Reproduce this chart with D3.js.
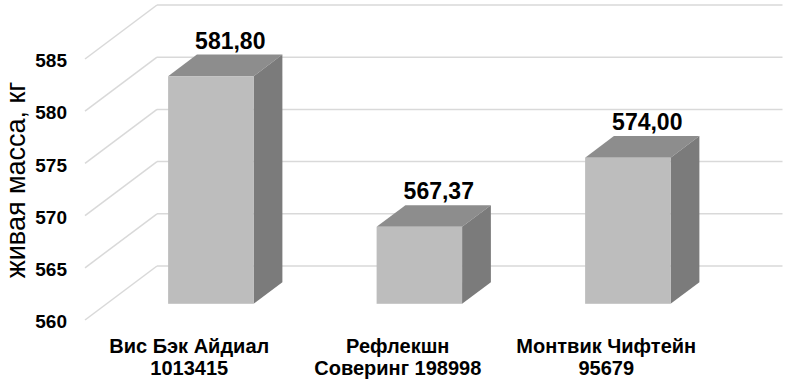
<!DOCTYPE html>
<html>
<head>
<meta charset="utf-8">
<script src="https://cdn.jsdelivr.net/npm/d3@7"></script>
<style>
  body { margin: 0; background: #fff; }
  svg { display: block; font-family: "Liberation Sans", Arial, sans-serif; }
</style>
</head>
<body>
<svg id="chart" width="789" height="381"></svg>
<script>
var categories = ["Вис Бэк Айдиал\n1013415", "Рефлекшн\nСоверинг 198998", "Монтвик Чифтейн\n95679"];
var values = [581.80, 567.37, 574.00];
var yTicks = [560, 565, 570, 575, 580, 585];
var yTitle = "живая масса, кг";

var svg = d3.select("#chart");
var depthX = 72, depthY = -54;      // offset from front plane to back wall
var barFront = 0.3, barBack = 0.7;  // bar depth as share of the full depth

var x = d3.scaleBand()
    .domain(categories)
    .range([85, 710.5]);

var y = d3.scaleLinear()
    .domain([560, 585])
    .range([320, 59]);

var fmt = d3.formatLocale({decimal: ",", thousands: " ", grouping: [3], currency: ["", ""]}).format(".2f");

// grid: back wall lines and side wall diagonals
var grid = svg.append("g").attr("stroke", "#d9d9d9").attr("stroke-width", 1.5).attr("fill", "none");
grid.selectAll(".back")
    .data(yTicks)
    .enter().append("line")
    .attr("x1", x.range()[0] + depthX)
    .attr("x2", x.range()[1] + depthX)
    .attr("y1", d => y(d) + depthY)
    .attr("y2", d => y(d) + depthY);
grid.selectAll(".side")
    .data(yTicks)
    .enter().append("line")
    .attr("x1", x.range()[0])
    .attr("x2", x.range()[0] + depthX)
    .attr("y1", d => y(d))
    .attr("y2", d => y(d) + depthY);

// y axis labels
var axis = svg.append("g")
    .attr("transform", "translate(" + x.range()[0] + ",0)")
    .call(d3.axisLeft(y).tickValues(yTicks).tickSize(0).tickPadding(18).tickFormat(d3.format("d")));
axis.select(".domain").remove();
axis.selectAll("text")
    .attr("dy", "0.4em")
    .attr("fill", "#000")
    .style("font-size", "19px")
    .style("font-weight", "bold")
    .style("font-family", "'Liberation Sans', Arial, sans-serif");

// bars
var bw = x.bandwidth() * 0.41;
var bars = svg.selectAll(".bar")
    .data(values)
    .enter().append("g")
    .attr("class", "bar");

function px(i, f) { return x(categories[i]) + (x.bandwidth() - bw) / 2 + f * depthX; }

bars.append("path")
    .attr("fill", "#8d8d8d")
    .attr("d", (d, i) => {
        var yt = y(d);
        return "M" + px(i, barFront) + "," + (yt + barFront * depthY) +
            "L" + (px(i, barFront) + bw) + "," + (yt + barFront * depthY) +
            "L" + (px(i, barBack) + bw) + "," + (yt + barBack * depthY) +
            "L" + px(i, barBack) + "," + (yt + barBack * depthY) + "Z";
    });
bars.append("path")
    .attr("fill", "#7b7b7b")
    .attr("d", (d, i) => {
        var yt = y(d), yb = y(560);
        return "M" + (px(i, barFront) + bw) + "," + (yt + barFront * depthY) +
            "L" + (px(i, barBack) + bw) + "," + (yt + barBack * depthY) +
            "L" + (px(i, barBack) + bw) + "," + (yb + barBack * depthY) +
            "L" + (px(i, barFront) + bw) + "," + (yb + barFront * depthY) + "Z";
    });
bars.append("rect")
    .attr("fill", "#bdbdbd")
    .attr("x", (d, i) => px(i, barFront))
    .attr("y", d => y(d) + barFront * depthY)
    .attr("width", bw)
    .attr("height", d => y(560) - y(d));

// value labels
bars.append("text")
    .attr("x", (d, i) => px(i, 0.57) + bw / 2)
    .attr("y", d => y(d) + barBack * depthY - 6)
    .attr("text-anchor", "middle")
    .style("font-size", "23px")
    .style("font-weight", "bold")
    .text(d => fmt(d));

// category labels
var cat = svg.selectAll(".cat")
    .data(categories)
    .enter().append("text")
    .attr("text-anchor", "middle")
    .style("font-size", "20px")
    .style("font-weight", "bold");
cat.selectAll("tspan")
    .data(d => d.split("\n").map(s => ({s: s, c: d})))
    .enter().append("tspan")
    .attr("x", d => x(d.c) + x.bandwidth() / 2)
    .attr("y", (d, j) => 353 + j * 22)
    .text(d => d.s);

// y title
svg.append("text")
    .attr("transform", "translate(25,180) rotate(-90)")
    .attr("text-anchor", "middle")
    .style("font-size", "27px")
    .text(yTitle);
</script>
</body>
</html>
